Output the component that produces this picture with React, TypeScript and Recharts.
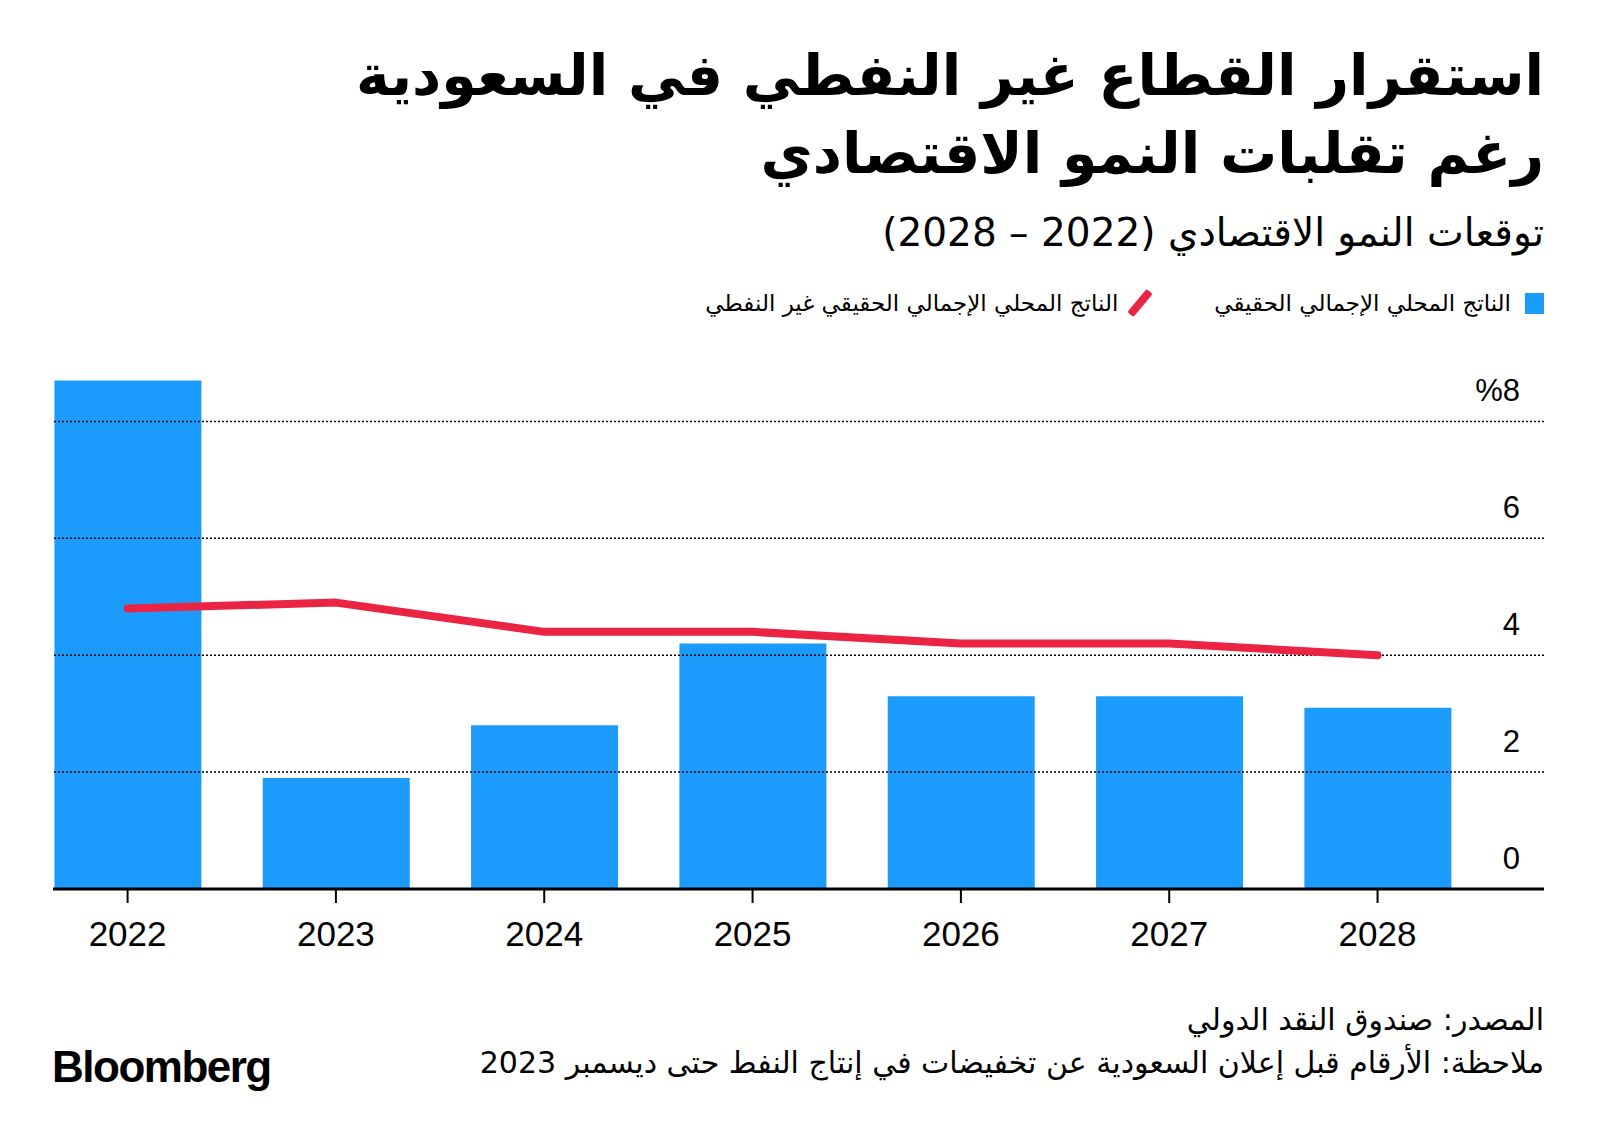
import React from "react";
import { ComposedChart, Bar, Line, XAxis, YAxis, ReferenceLine } from "recharts";

const years = [2022, 2023, 2024, 2025, 2026, 2027, 2028];
const realGdp = [8.7, 1.9, 2.8, 4.2, 3.3, 3.3, 3.1];
const nonOilGdp = [4.8, 4.9, 4.4, 4.4, 4.2, 4.2, 4.0];
const yTicks = [0, 2, 4, 6, 8];
const yTickLabels = ["0", "2", "4", "6", "%8"];
const gridValues = [2, 4, 6, 8];

const BLUE = "#1b9cfc";
const RED = "#ec2444";
const AR = "'DejaVu Sans', sans-serif";
const NUM = "'Liberation Sans', Arial, sans-serif";

const data = years.map((y, i) => ({ year: y, gdp: realGdp[i], nonOil: nonOilGdp[i] }));

// tick labels sit inside the plot, just above each gridline
function YTick(props: any) {
  const { y, payload } = props;
  const i = yTicks.indexOf(payload.value);
  return (
    <text x={1520} y={y - 20} textAnchor="end" fontSize={31} fontFamily={NUM} fill="#000">
      {yTickLabels[i]}
    </text>
  );
}

export default function App() {
  return (
    <div style={{ position: "absolute", left: 0, top: 0, width: 1600, height: 1148, background: "#fff", overflow: "hidden" }}>
      <div dir="rtl" style={{ position: "absolute", right: 56, top: 36, width: 1300, textAlign: "right", fontFamily: AR, fontWeight: 700, fontSize: 57, lineHeight: "78px", color: "#000" }}>
        استقرار القطاع غير النفطي في السعودية
        <br />
        رغم تقلبات النمو الاقتصادي
      </div>
      <div dir="rtl" style={{ position: "absolute", right: 56, top: 207, textAlign: "right", fontFamily: AR, fontSize: 39, lineHeight: "52px", color: "#000" }}>
        توقعات النمو الاقتصادي (2022 – 2028)
      </div>
      <div dir="rtl" style={{ position: "absolute", right: 56, top: 288, display: "flex", alignItems: "center", fontFamily: AR, fontSize: 23, color: "#000" }}>
        <span style={{ display: "inline-block", width: 19, height: 21, background: BLUE, marginLeft: 14 }} />
        <span>الناتج المحلي الإجمالي الحقيقي</span>
        <span style={{ display: "inline-block", width: 8, height: 30, background: RED, transform: "rotate(40deg)", marginRight: 70, marginLeft: 18, borderRadius: 2 }} />
        <span>الناتج المحلي الإجمالي الحقيقي غير النفطي</span>
      </div>

      <div style={{ position: "absolute", left: 0, top: 330 }}>
        <ComposedChart width={1600} height={649} data={data} margin={{ top: 33, right: 55, bottom: 0, left: 53 }}>
          {gridValues.map((v) => (
            <ReferenceLine key={v} y={v} stroke="#000" strokeWidth={1.5} strokeDasharray="2 2" />
          ))}
          <XAxis
            dataKey="year"
            type="number"
            domain={[2021.642, 2028.799]}
            ticks={years}
            allowDataOverflow
            height={90}
            axisLine={{ stroke: "#000", strokeWidth: 3 }}
            tickLine={{ stroke: "#000", strokeWidth: 2 }}
            tickSize={14}
            tickMargin={18}
            tick={{ fontSize: 35, fontFamily: NUM, fill: "#000" }}
          />
          <YAxis
            orientation="right"
            width={1}
            domain={[0, 9]}
            ticks={yTicks}
            axisLine={false}
            tickLine={false}
            tick={(p: any) => <YTick {...p} />}
          />
          <Bar dataKey="gdp" fill={BLUE} barSize={147} isAnimationActive={false} />
          <Line dataKey="nonOil" stroke={RED} strokeWidth={8} strokeLinecap="round" strokeLinejoin="round" dot={false} type="linear" isAnimationActive={false} />
        </ComposedChart>
      </div>

      <div dir="rtl" style={{ position: "absolute", right: 56, top: 998, textAlign: "right", fontFamily: AR, fontSize: 30, lineHeight: "43px", color: "#000" }}>
        المصدر: صندوق النقد الدولي
        <br />
        ملاحظة: الأرقام قبل إعلان السعودية عن تخفيضات في إنتاج النفط حتى ديسمبر 2023
      </div>
      <div style={{ position: "absolute", left: 52, top: 1042, fontFamily: NUM, fontWeight: 700, fontSize: 44, letterSpacing: -1.5, color: "#000" }}>
        Bloomberg
      </div>
    </div>
  );
}
